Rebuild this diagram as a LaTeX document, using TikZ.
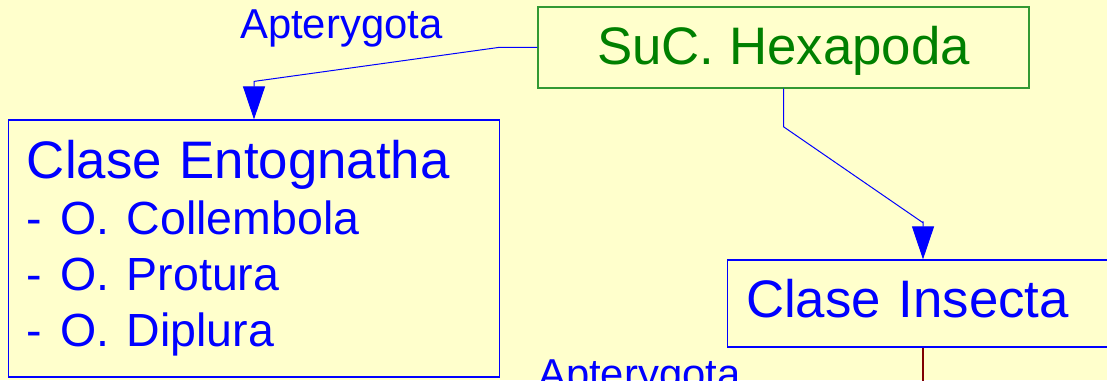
\documentclass[tikz,border=0pt]{standalone}
\usepackage{fontspec}
\setmainfont{Liberation Sans}
\usetikzlibrary{arrows.meta}
\definecolor{slidebg}{HTML}{FFFFCC}
\definecolor{boxgreen}{HTML}{339933}
\definecolor{textgreen}{HTML}{008000}
\definecolor{linkred}{HTML}{800000}
\newcommand{\ordertext}{\fontsize{46.5}{56}\selectfont}

\begin{document}
\begin{tikzpicture}[x=1pt,y=1pt,
	bigtext/.style={font=\fontsize{52.8}{56}\selectfont},
	taxon/.style={bigtext,draw=blue,line width=1.2pt,text=blue,inner ysep=0pt},
	superbox/.style={bigtext,draw=boxgreen,line width=1.5pt,text=textgreen,inner sep=0pt,
		minimum width=491pt,minimum height=81pt,text height=38pt,text depth=3pt},
	branch/.style={font=\fontsize{41.8}{44}\selectfont,text=blue,inner sep=0pt},
	link/.style={draw=blue,line width=1pt,-{Triangle[length=33pt,width=22pt]}}]
	\fill[slidebg] (0,0) rectangle (1107,380);
	\clip (0,0) rectangle (1107,380);
	\node[superbox] (hexa) at (783.5,332.5) {SuC. Hexapoda};
	\node[taxon,align=left,text width=454pt,inner xsep=18.5pt,minimum height=257pt]
		(ento) at (254,131.5)
		{Clase Entognatha\\\ordertext - O. Collembola\\\ordertext - O. Protura\\\ordertext - O. Diplura};
	\node[taxon,anchor=west,align=left,text width=462pt,inner xsep=19pt,minimum height=87pt,
		text height=38pt,text depth=11pt] (insecta) at (726.5,76.5) {Clase Insecta};
	\node[branch,anchor=base west] (apt1) at (240,341) {Apterygota};
	\node[branch,anchor=base west] (apt2) at (538,-8) {Apterygota};
	\draw[link] (hexa.west) -- ++(-39,0) -- ([yshift=38pt]ento.north) -- (ento.north);
	\draw[link] (hexa.south) -- ++(0,-38) -- ++(139.5,-96)
		-- ([xshift=196.5pt,yshift=38pt]insecta.north west)
		-- ([xshift=196.5pt]insecta.north west);
	\coordinate (down) at ([xshift=196.5pt,yshift=-60pt]insecta.south west);
	\draw[linkred,line width=1.2pt] ([xshift=196.5pt]insecta.south west) -- (down);
\end{tikzpicture}
\end{document}
